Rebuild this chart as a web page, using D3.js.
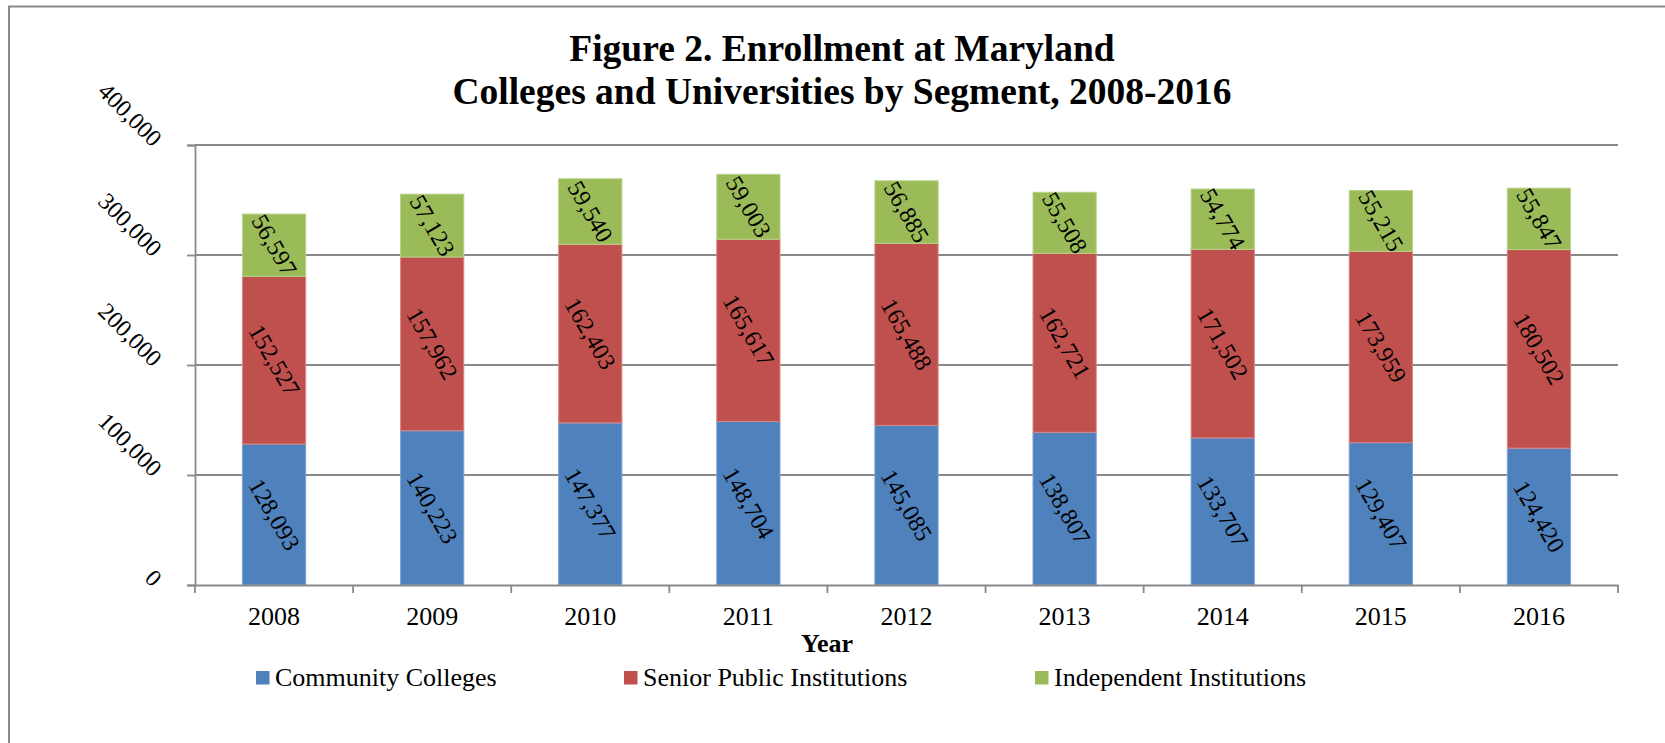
<!DOCTYPE html>
<html>
<head>
<meta charset="utf-8">
<script src="https://d3js.org/d3.v7.min.js"></script>
<style>
    body { margin: 0; background: #fff; }
    svg { display: block; font-family: "Liberation Serif", "Times New Roman", serif; }
</style>
</head>
<body>
<div class="chart-container"></div>
<script>
const years = ['2008', '2009', '2010', '2011', '2012', '2013', '2014', '2015', '2016'];
const communityColleges = [128093, 140223, 147377, 148704, 145085, 138807, 133707, 129407, 124420];
const seniorPublic = [152527, 157962, 162403, 165617, 165488, 162721, 171502, 173959, 180502];
const independent = [56597, 57123, 59540, 59003, 56885, 55508, 54774, 55215, 55847];
const seriesNames = ['Community Colleges', 'Senior Public Institutions', 'Independent Institutions'];
const yTicks = [0, 100000, 200000, 300000, 400000];
const titleLines = ['Figure 2. Enrollment at Maryland', 'Colleges and Universities by Segment, 2008-2016'];

const width = 1665;
const height = 743;
const colors = ['#4f81bd', '#c0504d', '#9bbb59'];
const strokes = ['#7ea3d4', '#d98784', '#b9d38a'];
const gridColor = '#898989';

const svg = d3.select('.chart-container')
              .append('svg')
              .attr('width', width)
              .attr('height', height);

// outer frame (only left and top edges are visible in the crop)
svg.append('path')
   .attr('d', 'M9,' + height + 'V6.5H' + width)
   .attr('fill', 'none')
   .attr('stroke', gridColor)
   .attr('stroke-width', 2);

const plot = { left: 195, right: 1618, top: 145, bottom: 585 };

const xScale = d3.scaleBand()
                 .domain(years)
                 .range([plot.left, plot.right])
                 .paddingInner(0.6)
                 .paddingOuter(0.3);

const yScale = d3.scaleLinear()
                 .domain([0, 400000])
                 .range([plot.bottom, plot.top]);

// gridlines
svg.append('g')
   .selectAll('line')
   .data(yTicks.slice(1))
   .enter()
   .append('line')
   .attr('x1', plot.left)
   .attr('x2', plot.right)
   .attr('y1', d => yScale(d))
   .attr('y2', d => yScale(d))
   .attr('stroke', gridColor)
   .attr('stroke-width', 1.8);

// stacked bars
const rows = years.map((y, i) => ({
    year: y,
    c: communityColleges[i],
    s: seniorPublic[i],
    n: independent[i]
}));
const stack = d3.stack().keys(['c', 's', 'n'])(rows);

const layers = svg.append('g')
                  .selectAll('g')
                  .data(stack)
                  .enter()
                  .append('g');

layers.selectAll('rect')
      .data((d, i) => d.map(p => ({ p: p, k: i })))
      .enter()
      .append('rect')
      .attr('x', d => xScale(d.p.data.year))
      .attr('width', xScale.bandwidth())
      .attr('y', d => yScale(d.p[1]))
      .attr('height', d => yScale(d.p[0]) - yScale(d.p[1]))
      .attr('fill', d => colors[d.k])
      .attr('stroke', d => strokes[d.k])
      .attr('stroke-width', 1);

// data labels, rotated like the excel original
const fmt = d3.format(',');
layers.selectAll('text')
      .data(d => d)
      .enter()
      .append('text')
      .attr('transform', d => {
          const cx = xScale(d.data.year) + xScale.bandwidth() / 2;
          const cy = (yScale(d[0]) + yScale(d[1])) / 2;
          return 'translate(' + cx + ',' + cy + ') rotate(60)';
      })
      .attr('text-anchor', 'middle')
      .attr('dominant-baseline', 'central')
      .attr('font-size', 24)
      .attr('fill', '#000')
      .text(d => fmt(d[1] - d[0]));

// y axis
const yAxis = d3.axisLeft(yScale).tickValues(yTicks).tickSize(8).tickFormat(fmt);
const yG = svg.append('g')
              .attr('transform', 'translate(' + plot.left + ',0)')
              .call(yAxis)
              .attr('font-family', null)
              .attr('font-size', null);
yG.select('.domain').attr('stroke', gridColor).attr('stroke-width', 1.8);
yG.selectAll('.tick line').attr('stroke', gridColor).attr('stroke-width', 1.8);
yG.selectAll('.tick text')
  .attr('x', null)
  .attr('dy', null)
  .attr('text-anchor', 'end')
  .attr('transform', 'translate(-43,2.5) rotate(45)')
  .attr('font-size', 24)
  .attr('fill', '#000');

// x axis: ticks sit on the category boundaries
const xG = svg.append('g')
              .attr('transform', 'translate(0,' + plot.bottom + ')')
              .call(d3.axisBottom(xScale).tickSize(0))
              .attr('font-family', null)
              .attr('font-size', null);
xG.select('.domain').attr('stroke', gridColor).attr('stroke-width', 1.8);
xG.selectAll('.tick text')
  .attr('y', 40)
  .attr('dy', null)
  .attr('font-size', 26)
  .attr('fill', '#000');
const step = xScale.step();
xG.selectAll('.bound')
  .data(d3.range(years.length + 1))
  .enter()
  .append('line')
  .attr('class', 'bound')
  .attr('x1', i => plot.left + i * step)
  .attr('x2', i => plot.left + i * step)
  .attr('y1', 0)
  .attr('y2', 8)
  .attr('stroke', gridColor)
  .attr('stroke-width', 1.8);

// axis title
svg.append('text')
   .attr('x', 827)
   .attr('y', 652)
   .attr('text-anchor', 'middle')
   .attr('font-size', 26)
   .attr('font-weight', 'bold')
   .text('Year');

// chart title
svg.append('g')
   .selectAll('text')
   .data(titleLines)
   .enter()
   .append('text')
   .attr('x', 842)
   .attr('y', (d, i) => 60.5 + i * 43)
   .attr('text-anchor', 'middle')
   .attr('font-size', 37.5)
   .attr('font-weight', 'bold')
   .text(d => d);

// legend
const legendX = [256, 624, 1035];
const legend = svg.append('g')
                  .selectAll('g')
                  .data(seriesNames)
                  .enter()
                  .append('g')
                  .attr('transform', (d, i) => 'translate(' + legendX[i] + ',671)');
legend.append('rect')
      .attr('width', 13.5)
      .attr('height', 13.5)
      .attr('fill', (d, i) => colors[i]);
legend.append('text')
      .attr('x', 19)
      .attr('y', 15)
      .attr('font-size', 26)
      .text(d => d);
</script>
</body>
</html>
